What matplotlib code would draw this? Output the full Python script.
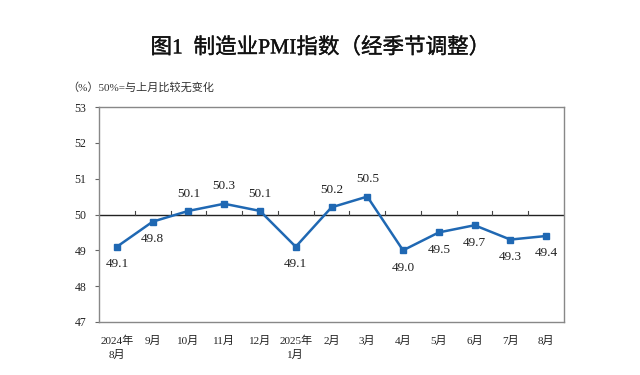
import matplotlib
matplotlib.use("Agg")
import matplotlib.pyplot as plt
import matplotlib.patheffects as pe

plt.rcParams['font.family'] = ['Liberation Serif', 'Noto Sans CJK SC']

months = ["2024年\n8月", "9月", "10月", "11月", "12月", "2025年\n1月", "2月", "3月",
          "4月", "5月", "6月", "7月", "8月"]
pmi = [49.1, 49.8, 50.1, 50.3, 50.1, 49.1, 50.2, 50.5, 49.0, 49.5, 49.7, 49.3, 49.4]
label_pos = ["below", "below", "above", "above", "above", "below", "above", "above",
             "below", "below", "below", "below", "below"]
yticks = [47, 48, 49, 50, 51, 52, 53]

fig = plt.figure(figsize=(6.4, 3.75), dpi=100)
ax = fig.add_axes([99/640, 1-322/375, (564-99)/640, (322-107)/375])

x = list(range(len(pmi)))
color = '#1f68b3'
ax.plot(x, pmi, color=color, lw=1.8, marker='s', markersize=4.5, zorder=3)

for xi, v, p in zip(x, pmi, label_pos):
    off = 12.5 if p == "above" else -12.5
    ax.annotate(f"{v:.1f}", (xi, v), xytext=(0, off), textcoords='offset points',
                ha='center', va='center', fontsize=9.5, color='#222222')

ax.set_xlim(-0.5, len(pmi) - 0.5)
ax.set_ylim(47, 53)
ax.set_yticks(yticks)
ax.set_yticklabels([str(t) for t in yticks], fontsize=8.5)
ax.tick_params(axis='y', length=3, color='#666666', pad=6, labelcolor='#222222')

# 50 baseline with category-boundary ticks
ax.axhline(50, color='#222222', lw=1.0, zorder=2)
for b in range(1, len(pmi)):
    ax.plot([b - 0.5, b - 0.5], [50, 50.1], color='#444444', lw=0.8, zorder=2)

ax.set_xticks(x)
ax.set_xticklabels(months, fontsize=8, linespacing=1.4)
ax.tick_params(axis='x', length=0, pad=10, labelcolor='#222222')

for s in ax.spines.values():
    s.set_color('#888888')
    s.set_linewidth(1.0)

fig.text(0.5, 1-48/375, "图1  制造业PMI指数（经季节调整）", ha='center', va='center',
         fontsize=15.5, color='#111111',
         path_effects=[pe.withStroke(linewidth=0.25, foreground='#111111')])
fig.text(67/640, 1-87/375, "（%）50%=与上月比较无变化", ha='left', va='center',
         fontsize=8, color='#333333')

fig.savefig("out.png", dpi=100)
